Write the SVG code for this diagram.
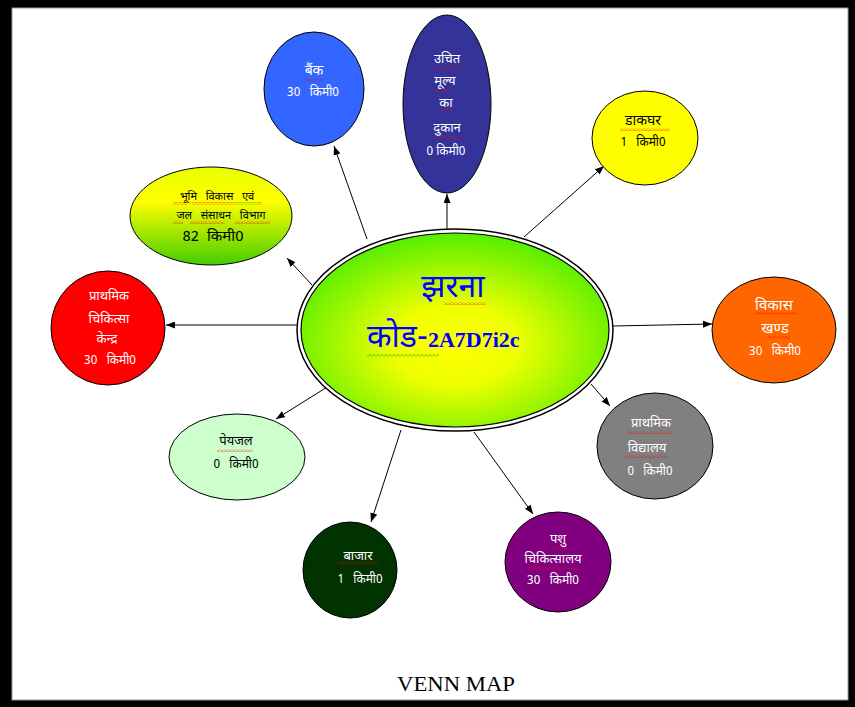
<svg xmlns="http://www.w3.org/2000/svg" width="855" height="707" viewBox="0 0 855 707">
  <defs>
    <style>
      .hi { font-family: "Noto Sans Devanagari", "Lohit Devanagari", "Noto Sans", "DejaVu Sans", sans-serif; text-anchor: middle; white-space: pre; }
      .s12 { font-size: 11px; }
      .s13 { font-size: 12px; }
      .s14 { font-size: 13px; }
      .s15 { font-size: 14px; }
      .w { fill: #ffffff; }
      .k { fill: #000000; }
      .node { stroke: #000000; stroke-width: 1; }
      .conn line { stroke: #000000; stroke-width: 1; marker-end: url(#arrow); }
      .sqR { fill: url(#wavyRed); }
      .sqG { fill: url(#wavyGreen); }
    </style>
    <marker id="arrow" markerUnits="userSpaceOnUse" markerWidth="9" markerHeight="7" refX="9" refY="3.5" orient="auto">
      <path d="M0,0 L9,3.5 L0,7 z" fill="#000000"/>
    </marker>
    <!-- spell-check style wavy underlines -->
    <pattern id="wavyRed" patternUnits="userSpaceOnUse" width="4" height="3">
      <polyline points="0,2.6 2,0.4 4,2.6" fill="none" stroke="#ff0000" stroke-width="0.6"/>
    </pattern>
    <pattern id="wavyGreen" patternUnits="userSpaceOnUse" width="4" height="3">
      <polyline points="0,2.6 2,0.4 4,2.6" fill="none" stroke="#00a000" stroke-width="0.6"/>
    </pattern>
    <radialGradient id="hubFill" cx="0.5" cy="0.58" r="0.58">
      <stop offset="0" stop-color="#ffff00"/>
      <stop offset="0.35" stop-color="#eeff00"/>
      <stop offset="1" stop-color="#55ee00"/>
    </radialGradient>
    <linearGradient id="limeFill" x1="0" y1="0" x2="0" y2="1">
      <stop offset="0" stop-color="#e8ff00"/>
      <stop offset="0.35" stop-color="#ffff00"/>
      <stop offset="1" stop-color="#44cc00"/>
    </linearGradient>
  </defs>

  <!-- page frame -->
  <rect x="0" y="0" width="855" height="707" fill="#000000"/>
  <rect x="12" y="8" width="836" height="692" fill="#ffffff" stroke="#999999" stroke-width="1"/>

  <!-- connectors -->
  <g id="connectors" class="conn">
    <line x1="367" y1="239" x2="334" y2="146"/>
    <line x1="447" y1="229" x2="447" y2="194"/>
    <line x1="524" y1="237" x2="604" y2="166"/>
    <line x1="312" y1="285" x2="287" y2="258"/>
    <line x1="298" y1="325" x2="166" y2="325"/>
    <line x1="613" y1="326" x2="712" y2="324"/>
    <line x1="591" y1="384" x2="610" y2="406"/>
    <line x1="332" y1="384" x2="276" y2="419"/>
    <line x1="401" y1="430" x2="371" y2="522"/>
    <line x1="474" y1="432" x2="533" y2="514"/>
  </g>

  <!-- central node -->
  <g id="hub">
    <ellipse cx="455" cy="330" rx="158" ry="101" fill="#ffffff" stroke="#000000" stroke-width="1.5"/>
    <ellipse cx="455" cy="330" rx="154" ry="97" fill="url(#hubFill)" stroke="#000000" stroke-width="1.2"/>
    <text class="hi" x="453" y="297" font-size="32" fill="#0000ff">झरना</text>
    <text x="367" y="347" font-size="32" fill="#0000ff" style="font-family: 'Noto Sans Devanagari', 'Lohit Devanagari', 'Noto Sans', sans-serif;">कोड-<tspan style="font-family: 'Liberation Serif', serif; font-weight: bold;" font-size="22">2A7D7i2c</tspan></text>
    <rect class="sqR" x="444" y="302" width="42" height="3"/>
    <rect class="sqG" x="367" y="354" width="72" height="3"/>
  </g>

  <!-- bank -->
  <g id="node-bank">
    <ellipse class="node" cx="314" cy="89" rx="50" ry="57" fill="#3366ff"/>
    <text class="hi s15 w" x="314" y="75">बैंक</text>
    <text class="hi s13 w" x="313" y="96">30   किमी0</text>
    <rect class="sqR" x="303" y="79" width="20" height="3"/>
  </g>

  <!-- fair price shop -->
  <g id="node-shop">
    <ellipse class="node" cx="447" cy="104" rx="44" ry="89" fill="#333399"/>
    <text class="hi s14 w" x="447" y="63">उचित</text>
    <text class="hi s14 w" x="445" y="85">मूल्य</text>
    <text class="hi s14 w" x="446" y="107">का</text>
    <text class="hi s14 w" x="447" y="132">दुकान</text>
    <text class="hi s13 w" x="446" y="155">0 किमी0</text>
    <rect class="sqR" x="433" y="67" width="28" height="3"/>
    <rect class="sqR" x="435" y="89" width="17" height="3"/>
    <rect class="sqR" x="440" y="109" width="12" height="3"/>
    <rect class="sqR" x="433" y="136" width="29" height="3"/>
  </g>

  <!-- post office -->
  <g id="node-post">
    <ellipse class="node" cx="645" cy="138" rx="53" ry="47" fill="#ffff00"/>
    <text class="hi s15 k" x="643" y="125">डाकघर</text>
    <text class="hi s13 k" x="643" y="146">1   किमी0</text>
    <rect class="sqR" x="620" y="128" width="50" height="3"/>
  </g>

  <!-- land development and water resources -->
  <g id="node-land">
    <ellipse class="node" cx="211" cy="216" rx="81" ry="49" fill="url(#limeFill)"/>
    <text class="hi s12 k" x="217" y="200">भूमि   विकास   एवं</text>
    <text class="hi s12 k" x="221" y="219">जल   संसाधन   विभाग</text>
    <text class="hi k" x="213" y="241" font-size="15">82  किमी0</text>
    <rect class="sqR" x="173" y="202" width="14" height="3"/>
    <rect class="sqR" x="192" y="202" width="43" height="3"/>
    <rect class="sqG" x="235" y="202" width="22" height="3"/>
    <rect class="sqR" x="257" y="202" width="5" height="3"/>
    <rect class="sqR" x="173" y="221" width="10" height="3"/>
    <rect class="sqR" x="190" y="221" width="35" height="3"/>
    <rect class="sqR" x="235" y="221" width="35" height="3"/>
  </g>

  <!-- primary health centre -->
  <g id="node-health">
    <ellipse class="node" cx="108" cy="328" rx="57" ry="57" fill="#ff0000"/>
    <text class="hi s14 w" x="109" y="300">प्राथमिक</text>
    <text class="hi s14 w" x="109" y="323">चिकित्सा</text>
    <text class="hi s14 w" x="107" y="343">केन्द्र</text>
    <text class="hi s13 w" x="110" y="364">30   किमी0</text>
  </g>

  <!-- block development -->
  <g id="node-block">
    <ellipse class="node" cx="774" cy="330" rx="62" ry="53" fill="#ff6600"/>
    <text class="hi w" x="774" y="310" font-size="15">विकास</text>
    <text class="hi w" x="775" y="333" font-size="15">खण्ड</text>
    <text class="hi s13 w" x="775" y="355">30   किमी0</text>
    <rect class="sqR" x="755" y="312" width="42" height="3"/>
    <rect class="sqR" x="767" y="336" width="23" height="3"/>
  </g>

  <!-- primary school -->
  <g id="node-school">
    <ellipse class="node" cx="655" cy="446" rx="58" ry="53" fill="#808080"/>
    <text class="hi s14 w" x="651" y="427">प्राथमिक</text>
    <text class="hi s14 w" x="647" y="452">विद्यालय</text>
    <text class="hi s13 w" x="650" y="475">0   किमी0</text>
    <rect class="sqR" x="627" y="431" width="46" height="3"/>
    <rect class="sqR" x="625" y="455" width="42" height="3"/>
  </g>

  <!-- drinking water -->
  <g id="node-water">
    <ellipse class="node" cx="237" cy="457" rx="68" ry="43" fill="#ccffcc"/>
    <text class="hi s14 k" x="236" y="445">पेयजल</text>
    <text class="hi s13 k" x="236" y="468">0   किमी0</text>
    <rect class="sqR" x="217" y="449" width="36" height="3"/>
  </g>

  <!-- market -->
  <g id="node-market">
    <ellipse class="node" cx="350" cy="570" rx="47" ry="48" fill="#003300"/>
    <text class="hi s14 w" x="358" y="560">बाजार</text>
    <text class="hi s13 w" x="360" y="583">1   किमी0</text>
    <rect class="sqR" x="338" y="562" width="40" height="3"/>
  </g>

  <!-- veterinary hospital -->
  <g id="node-vet">
    <ellipse class="node" cx="558" cy="562" rx="53" ry="50" fill="#800080"/>
    <text class="hi s14 w" x="558" y="543">पशु</text>
    <text class="hi s14 w" x="553" y="563">चिकित्सालय</text>
    <text class="hi s13 w" x="553" y="584">30   किमी0</text>
    <rect class="sqR" x="553" y="547" width="14" height="3"/>
    <rect class="sqR" x="528" y="567" width="50" height="3"/>
  </g>

  <!-- caption -->
  <text x="456" y="691" font-family="'Liberation Serif', serif" font-size="21" text-anchor="middle" fill="#000000" textLength="118" lengthAdjust="spacingAndGlyphs">VENN MAP</text>
</svg>
